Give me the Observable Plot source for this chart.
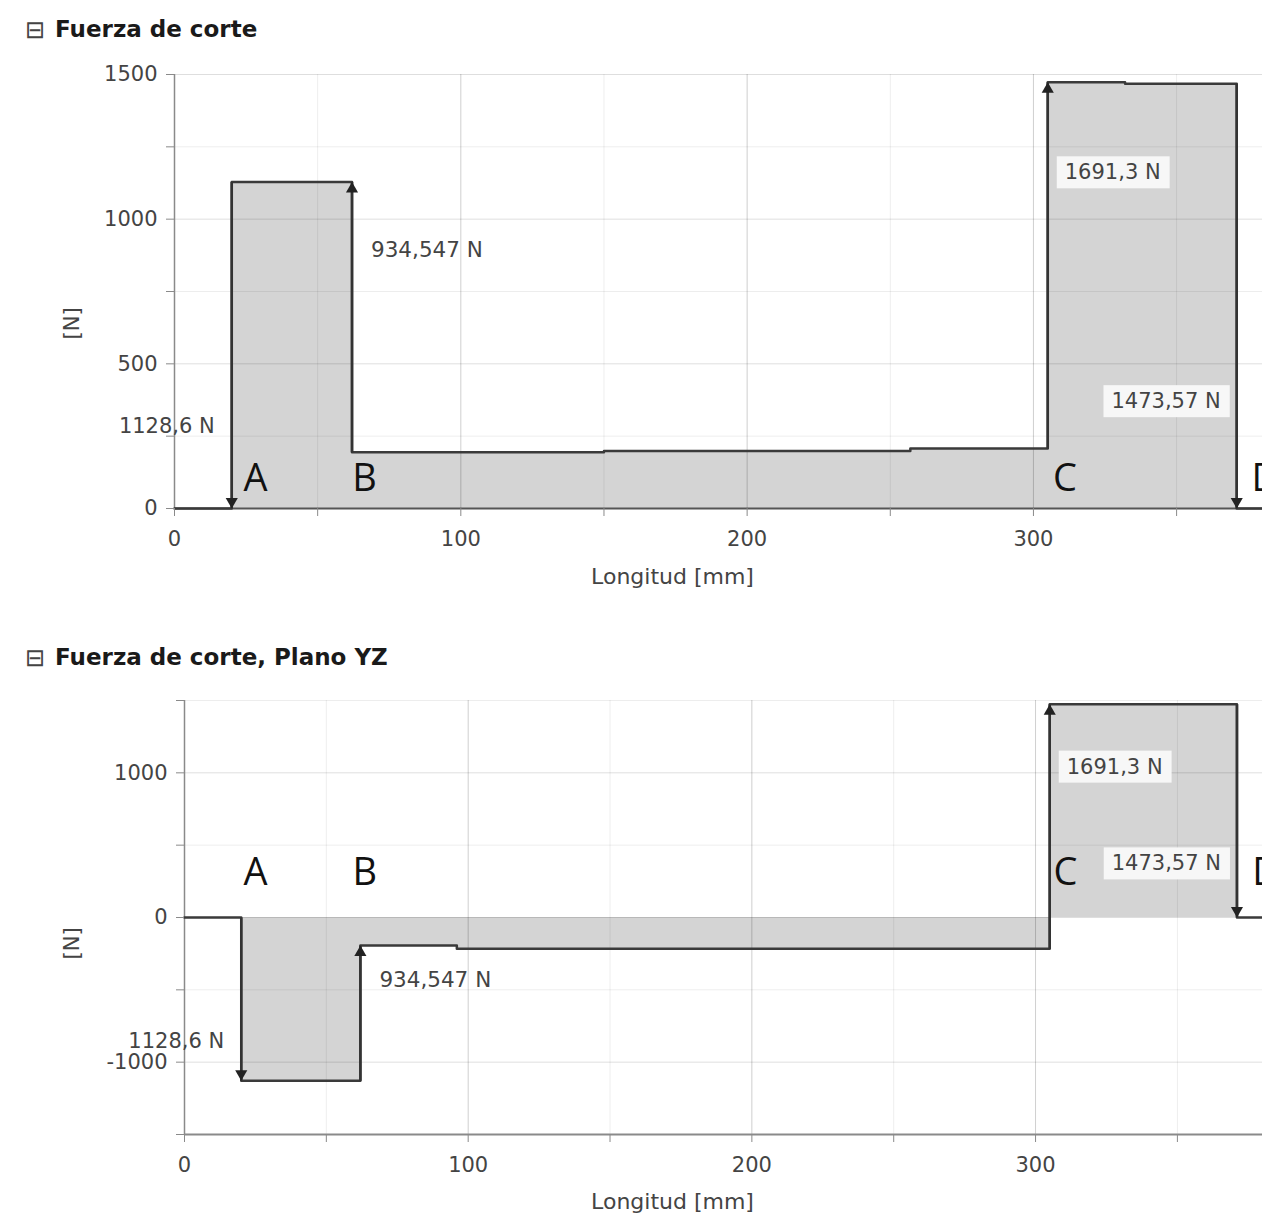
<!DOCTYPE html>
<html><head><meta charset="utf-8">
<script src="https://cdn.jsdelivr.net/npm/d3@7"></script>
<script src="https://cdn.jsdelivr.net/npm/@observablehq/plot@0.6"></script>
<style>
body{margin:0;background:#fff;font-family:"DejaVu Sans",sans-serif;}
#wrap{position:relative;width:1262px;height:1221px;overflow:hidden;background:#fff;}
.sym{position:absolute;left:25px;font-size:24px;color:#444;line-height:24px;}
.title{position:absolute;left:55px;font-weight:bold;font-size:23px;color:#1a1a1a;white-space:nowrap;line-height:26px;}
.chart{position:absolute;left:0;}
</style></head><body>
<div id="wrap">
 <div class="sym" style="top:18px">⊟</div>
 <div class="title" style="top:16px">Fuerza de corte</div>
 <div class="chart" id="c1" style="top:50px"></div>
 <div class="sym" style="top:646px">⊟</div>
 <div class="title" style="top:644px">Fuerza de corte, Plano YZ</div>
 <div class="chart" id="c2" style="top:680px"></div>
</div>
<script>
// ---- data ----
const xTicksMajor = [0, 100, 200, 300];
const xTicksMinor = [0, 50, 100, 150, 200, 250, 300, 350];
const letters = ["A", "B", "C", "D"];
const forceLabels = ["1128,6 N", "934,547 N", "1691,3 N", "1473,57 N"];

// Chart 1: Fuerza de corte
const topYTicks = [0, 500, 1000, 1500];
const topYMinor = [250, 750, 1250];
const topStations = [0, 20, 62, 150, 257, 305, 332, 371, 380];
const topValues   = [0, 1128.6, 194.05, 199, 207, 1473.57, 1468, 0, 0];
const topArrowX    = [20, 62, 305, 371];
const topArrowFrom = [1128.6, 194.05, 207, 1468];
const topArrowTo   = [0, 1128.6, 1473.57, 0];
const topLetterX = [24.1, 62.1, 306.8, 376.2];
const topLetterY = [104, 104, 104, 104];
const topLabelX = [20, 62, 305, 371];
const topLabelY = [283, 892, 1161, 370];

// Chart 2: Fuerza de corte, Plano YZ
const botYTicks = [-1000, 0, 1000];
const botYMinor = [-1500, -500, 500, 1500];
const botStations = [0, 20, 62, 96, 305, 371, 380];
const botValues   = [0, -1128.6, -194.05, -216, 1473.57, 0, 0];
const botArrowX    = [20, 62, 305, 371];
const botArrowFrom = [0, -1128.6, -216, 1473.57];
const botArrowTo   = [-1128.6, -194.05, 1473.57, 0];
const botLetterX = [20.8, 59.2, 306.3, 376.4];
const botLetterY = [310, 310, 310, 310];
const botLabelX = [20, 62, 305, 371];
const botLabelY = [-855, -434, 1041, 372];

function makeChart(o) {
  const rows = o.stations.map((x, i) => ({x, v: o.values[i]}));
  const arrows = o.arrowX.map((x, i) => ({x, from: o.arrowFrom[i], to: o.arrowTo[i]}));
  const lets = letters.map((t, i) => ({t, x: o.letterX[i], y: o.letterY[i]}));
  const labs = forceLabels.map((t, i) => ({t, i, x: o.labelX[i], y: o.labelY[i]}));
  const [y0] = o.yDomain;
  const cx = o.marginLeft + (1262 - o.marginLeft) / 2;
  return Plot.plot({
    width: 1262, height: o.height,
    marginLeft: o.marginLeft, marginRight: 0, marginTop: o.marginTop, marginBottom: o.marginBottom,
    style: {fontFamily: "DejaVu Sans", fontSize: "21px", color: "#444", background: "white", overflow: "visible"},
    x: {domain: [0, 380], label: null},
    y: {domain: o.yDomain, label: null},
    marks: [
      Plot.areaY(rows, {x: "x", y: "v", curve: "step-after", fill: "#d4d4d4"}),
      Plot.gridX(xTicksMinor, {stroke: "#000", strokeOpacity: 0.07}),
      Plot.gridX(xTicksMajor, {stroke: "#000", strokeOpacity: 0.13}),
      Plot.gridY(o.yMinor, {stroke: "#000", strokeOpacity: 0.07}),
      Plot.gridY(o.yTicks, {stroke: "#000", strokeOpacity: 0.13}),
      Plot.ruleX([0], {stroke: "#8a8a8a", strokeWidth: 1.5}),
      Plot.ruleY([y0], {stroke: o.xAxisColor, strokeWidth: 2}),
      Plot.lineY(rows, {x: "x", y: "v", curve: "step-after", stroke: "#3a3a3a", strokeWidth: 2.5}),
      Plot.link(arrows, {x1: "x", x2: "x", y1: "from", y2: "to", stroke: "#333", strokeWidth: 2.5}),
      Plot.dot(arrows.filter(d => d.to > d.from), {x: "x", y: "to", symbol: "triangle", r: 4.5, fill: "#222", stroke: "none", dy: 7}),
      Plot.dot(arrows.filter(d => d.to < d.from), {x: "x", y: "to", symbol: "triangle", r: 4.5, fill: "#222", stroke: "none", rotate: 180, dy: -7}),
      Plot.axisX({ticks: xTicksMinor, tickSize: 8, tickFormat: () => "", stroke: "#8a8a8a", label: null}),
      Plot.axisX({ticks: xTicksMajor, tickSize: 0, tickPadding: 23, tickFormat: d => String(d), fill: "#444", label: null}),
      Plot.axisY({ticks: o.yTicks.concat(o.yMinor), tickSize: 8, tickFormat: () => "", stroke: "#8a8a8a", label: null}),
      Plot.axisY({ticks: o.yTicks, tickSize: 0, tickPadding: 17, tickFormat: d => String(d), fill: "#444", label: null}),
      Plot.text(["Longitud [mm]"], {text: d => d, frameAnchor: "bottom", dx: 672 - cx, dy: o.xLabelDy, fill: "#444", fontSize: 22}),
      Plot.text(["[N]"], {text: d => d, frameAnchor: "left", rotate: -90, dx: 72 - o.marginLeft, dy: o.yLabelDy, fill: "#444", fontSize: 21}),
      Plot.text(lets, {x: "x", y: "y", text: "t", textAnchor: "start", fontFamily: "Open Sans", fontSize: 38, fill: "#111"}),
      Plot.text(labs.filter(d => d.i === 0), {x: "x", y: "y", text: "t", textAnchor: "end", dx: -17, fontSize: 21, fill: "#444"}),
      Plot.text(labs.filter(d => d.i === 1), {x: "x", y: "y", text: "t", textAnchor: "start", dx: 19, fontSize: 21.5, fill: "#444"}),
      Plot.text(labs.filter(d => d.i === 2), {x: "x", y: "y", text: "t", textAnchor: "start", dx: 17, fontSize: 21, fill: "#444", className: "boxed"}),
      Plot.text(labs.filter(d => d.i === 3), {x: "x", y: "y", text: "t", textAnchor: "end", dx: -16, fontSize: 21, fill: "#444", className: "boxed"})
    ]
  });
}

const c1 = makeChart({
  stations: topStations, values: topValues,
  arrowX: topArrowX, arrowFrom: topArrowFrom, arrowTo: topArrowTo,
  letterX: topLetterX, letterY: topLetterY, labelX: topLabelX, labelY: topLabelY,
  yDomain: [0, 1500], yTicks: topYTicks, yMinor: topYMinor,
  marginLeft: 174, height: 560, marginTop: 24, marginBottom: 102,
  xLabelDy: 75, yLabelDy: 48, xAxisColor: "#555"
});
const c2 = makeChart({
  stations: botStations, values: botValues,
  arrowX: botArrowX, arrowFrom: botArrowFrom, arrowTo: botArrowTo,
  letterX: botLetterX, letterY: botLetterY, labelX: botLabelX, labelY: botLabelY,
  yDomain: [-1500, 1500], yTicks: botYTicks, yMinor: botYMinor,
  marginLeft: 184, height: 541, marginTop: 20, marginBottom: 87,
  xLabelDy: 74, yLabelDy: 42, xAxisColor: "#8a8a8a"
});
document.getElementById("c1").appendChild(c1);
document.getElementById("c2").appendChild(c2);

// light boxes behind boxed labels
for (const svg of [c1, c2]) {
  svg.querySelectorAll("g.boxed text").forEach(t => {
    const b = t.getBBox();
    const r = document.createElementNS("http://www.w3.org/2000/svg", "rect");
    r.setAttribute("x", b.x - 8);
    r.setAttribute("y", b.y - 4);
    r.setAttribute("width", b.width + 17);
    r.setAttribute("height", b.height + 8);
    r.setAttribute("fill", "#f7f7f7");
    if (t.getAttribute("transform")) r.setAttribute("transform", t.getAttribute("transform"));
    t.parentNode.insertBefore(r, t);
  });
}
</script>
</body></html>
